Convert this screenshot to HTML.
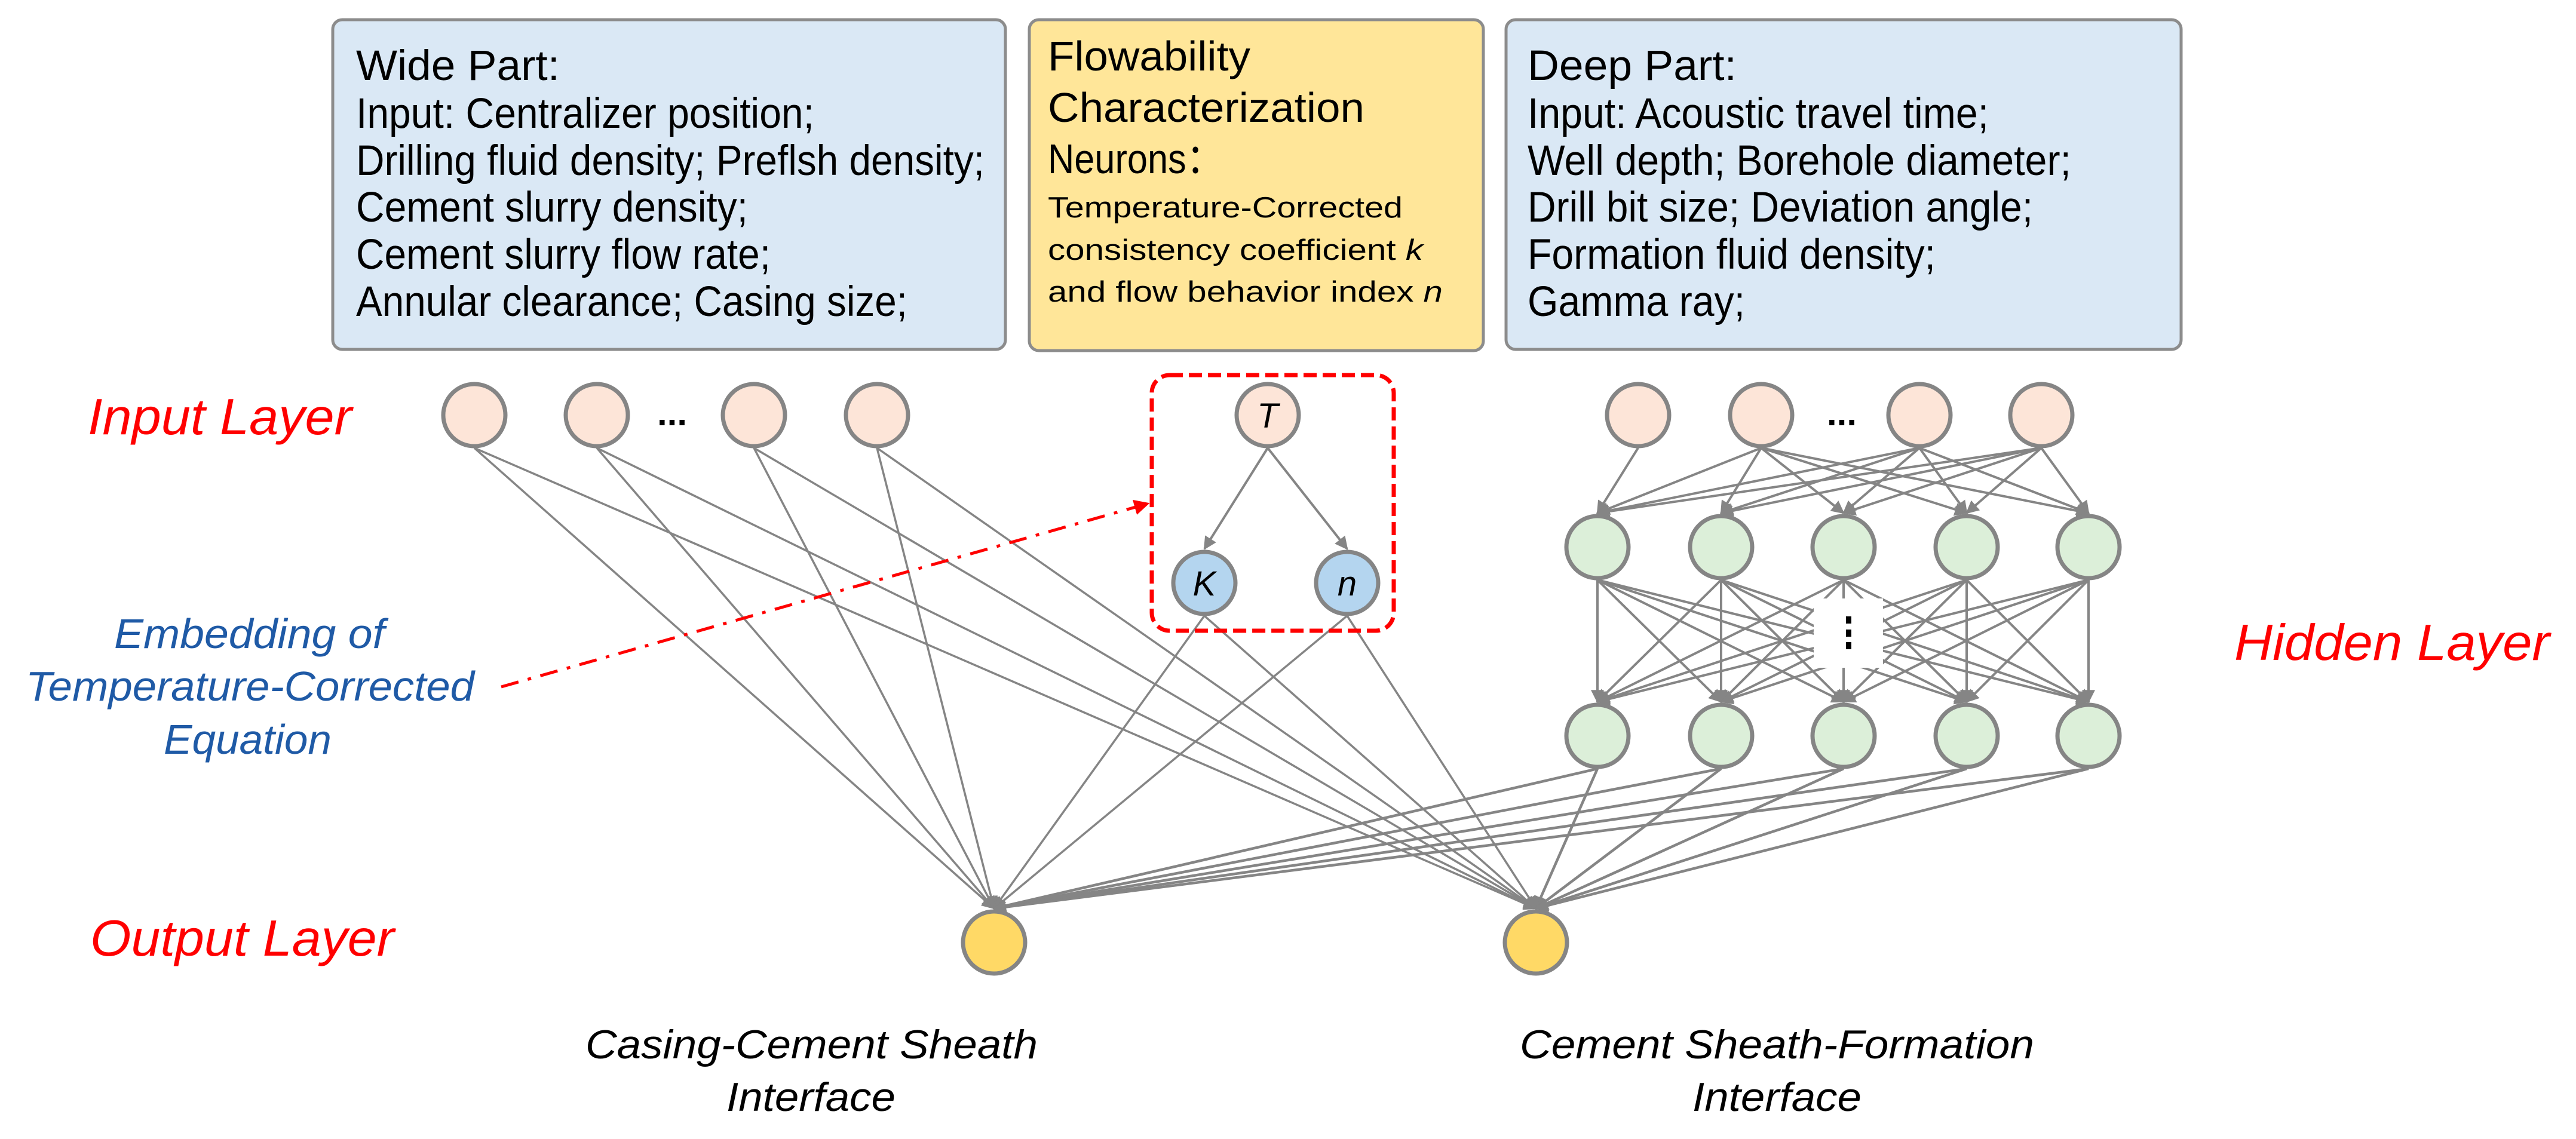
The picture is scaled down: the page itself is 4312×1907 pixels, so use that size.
<!DOCTYPE html>
<html><head><meta charset="utf-8"><style>
html,body{margin:0;padding:0;background:#fff;}
svg{display:block;}
text{font-family:"Liberation Sans",Arial,sans-serif;}
</style></head><body>
<svg id="s" width="4312" height="1907" viewBox="0 0 4312 1907" xmlns="http://www.w3.org/2000/svg">
<defs>
<marker id="ah" viewBox="0 0 10 10" refX="9" refY="5" markerWidth="22" markerHeight="22" markerUnits="userSpaceOnUse" orient="auto"><path d="M0,0 L10,5 L0,10 z" fill="#858585"/></marker>
<marker id="ar" viewBox="0 0 10 10" refX="9" refY="5" markerWidth="26" markerHeight="26" markerUnits="userSpaceOnUse" orient="auto"><path d="M0,0 L10,5 L0,10 z" fill="#ff0000"/></marker>
</defs>
<rect x="557" y="33" width="1126" height="552" rx="16" fill="#dae8f5" stroke="#8c8c8c" stroke-width="5"/>
<rect x="1723" y="33" width="760" height="554" rx="16" fill="#ffe699" stroke="#8c8c8c" stroke-width="5"/>
<rect x="2521" y="33" width="1130" height="552" rx="16" fill="#dae8f5" stroke="#8c8c8c" stroke-width="5"/>
<g font-size="71" fill="#000">
<text x="596" y="134" textLength="341" lengthAdjust="spacingAndGlyphs">Wide Part:</text>
<text x="596" y="214" textLength="767" lengthAdjust="spacingAndGlyphs">Input: Centralizer position;</text>
<text x="596" y="293" textLength="1052" lengthAdjust="spacingAndGlyphs">Drilling fluid density; Preflsh density;</text>
<text x="596" y="371" textLength="656" lengthAdjust="spacingAndGlyphs">Cement slurry density;</text>
<text x="596" y="450" textLength="694" lengthAdjust="spacingAndGlyphs">Cement slurry flow rate;</text>
<text x="596" y="529" textLength="923" lengthAdjust="spacingAndGlyphs">Annular clearance; Casing size;</text>
<text x="2557" y="134" textLength="350" lengthAdjust="spacingAndGlyphs">Deep Part:</text>
<text x="2557" y="214" textLength="772" lengthAdjust="spacingAndGlyphs">Input: Acoustic travel time;</text>
<text x="2557" y="293" textLength="910" lengthAdjust="spacingAndGlyphs">Well depth; Borehole diameter;</text>
<text x="2557" y="371" textLength="846" lengthAdjust="spacingAndGlyphs">Drill bit size; Deviation angle;</text>
<text x="2557" y="450" textLength="683" lengthAdjust="spacingAndGlyphs">Formation fluid density;</text>
<text x="2557" y="529" textLength="364" lengthAdjust="spacingAndGlyphs">Gamma ray;</text>
<text x="1754" y="118" font-size="70" textLength="339" lengthAdjust="spacingAndGlyphs">Flowability</text>
<text x="1754" y="204" font-size="70" textLength="530" lengthAdjust="spacingAndGlyphs">Characterization</text>
<text x="1754" y="290" font-size="70" textLength="293" lengthAdjust="spacingAndGlyphs">Neurons：</text>
<text x="1754" y="364" font-size="49" textLength="594" lengthAdjust="spacingAndGlyphs">Temperature-Corrected</text>
<text x="1754" y="435" font-size="49" textLength="628" lengthAdjust="spacingAndGlyphs">consistency coefficient <tspan font-style="italic">k</tspan></text>
<text x="1754" y="505" font-size="49" textLength="661" lengthAdjust="spacingAndGlyphs">and flow behavior index <tspan font-style="italic">n</tspan></text>
</g>
<g font-style="italic" fill="#ff0000" font-size="85">
<text x="147" y="727" textLength="442" lengthAdjust="spacingAndGlyphs">Input Layer</text>
<text x="151" y="1600" textLength="509" lengthAdjust="spacingAndGlyphs">Output Layer</text>
<text x="3740" y="1105" textLength="528" lengthAdjust="spacingAndGlyphs">Hidden Layer</text>
</g>
<g font-style="italic" fill="#1f5aa6" font-size="70">
<text x="191" y="1085" textLength="453" lengthAdjust="spacingAndGlyphs">Embedding of</text>
<text x="43" y="1173" textLength="751" lengthAdjust="spacingAndGlyphs">Temperature-Corrected</text>
<text x="274" y="1262" textLength="281" lengthAdjust="spacingAndGlyphs">Equation</text>
</g>
<g font-style="italic" fill="#000" font-size="68">
<text x="980" y="1772" textLength="757" lengthAdjust="spacingAndGlyphs">Casing-Cement Sheath</text>
<text x="1216" y="1860" textLength="283" lengthAdjust="spacingAndGlyphs">Interface</text>
<text x="2544" y="1772" textLength="861" lengthAdjust="spacingAndGlyphs">Cement Sheath-Formation</text>
<text x="2833" y="1860" textLength="283" lengthAdjust="spacingAndGlyphs">Interface</text>
</g>
<g id="lines" stroke="#858585" fill="none"></g>
<rect x="3036" y="1002" width="116" height="116" fill="#fff"/>
<rect x="3090" y="1032" width="9" height="12" fill="#000"/>
<rect x="3090" y="1054" width="9" height="12" fill="#000"/>
<rect x="3090" y="1075" width="9" height="12" fill="#000"/>
<rect x="1928" y="628" width="405" height="428" rx="30" fill="none" stroke="#ff0000" stroke-width="7" stroke-dasharray="22 10"/>
<line x1="839" y1="1150" x2="1922" y2="843" stroke="#ff0000" stroke-width="5" stroke-dasharray="30 16 6 16" marker-end="url(#ar)"/>
<g id="nodes" stroke="#858585" stroke-width="7"></g>
<g font-size="60" font-weight="bold" fill="#000">
<text x="1125" y="712" text-anchor="middle">...</text>
<text x="3083" y="712" text-anchor="middle">...</text>
</g>
<g font-style="italic" font-size="58" fill="#000" text-anchor="middle">
<text x="2122" y="716">T</text>
<text x="2016" y="997">K</text>
<text x="2255" y="997">n</text>
</g>
</svg>
<script>
var NS="http://www.w3.org/2000/svg";
var L=document.getElementById("lines"),N=document.getElementById("nodes");
var R=55;
function ln(x1,y1,x2,y2,w,arrow){
  var e=document.createElementNS(NS,"line");
  e.setAttribute("x1",x1);e.setAttribute("y1",y1+R);
  e.setAttribute("x2",x2);e.setAttribute("y2",y2-R-2);
  e.setAttribute("stroke-width",w);
  if(arrow)e.setAttribute("marker-end","url(#ah)");
  L.appendChild(e);
}
function nd(x,y,f){var c=document.createElementNS(NS,"circle");c.setAttribute("cx",x);c.setAttribute("cy",y);c.setAttribute("r",52);c.setAttribute("fill",f);N.appendChild(c);}
var W=[794,999,1262,1468],O=[1664,2571],D=[2742,2948,3213,3417],H=[2674,2881,3086,3292,3496];
var Oy=1578;
W.forEach(function(x){O.forEach(function(o){ln(x,695,o,Oy,3.5,true);});});
[[2016,976],[2255,976]].forEach(function(p){O.forEach(function(o){ln(p[0],p[1],o,Oy,3.5,true);});});
ln(2122,695,2016,976,4,true);ln(2122,695,2255,976,4,true);
ln(D[0],695,H[0],916,4,true);
for(var i=1;i<4;i++)H.forEach(function(h){ln(D[i],695,h,916,4,true);});
H.forEach(function(a){H.forEach(function(b){ln(a,916,b,1232,4,true);});});
H.forEach(function(h){O.forEach(function(o){ln(h,1232,o,Oy,4.5,true);});});
W.forEach(function(x){nd(x,695,"#fde5d8");});
D.forEach(function(x){nd(x,695,"#fde5d8");});
nd(2122,695,"#fde5d8");
nd(2016,976,"#b4d5ef");nd(2255,976,"#b4d5ef");
H.forEach(function(x){nd(x,916,"#dcefd9");nd(x,1232,"#dcefd9");});
O.forEach(function(x){nd(x,Oy,"#ffd966");});
</script>
</body></html>
